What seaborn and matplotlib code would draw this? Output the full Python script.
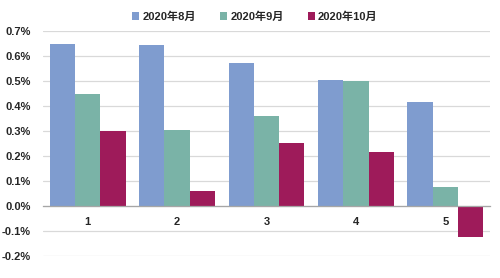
import matplotlib
matplotlib.use("Agg")
import matplotlib.pyplot as plt
import seaborn as sns
import pandas as pd
from matplotlib.ticker import FuncFormatter, FixedLocator

categories = ["1", "2", "3", "4", "5"]
series_names = ["2020年8月", "2020年9月", "2020年10月"]
aug = [0.650, 0.646, 0.572, 0.504, 0.418]
sep = [0.450, 0.306, 0.362, 0.500, 0.078]
oct_ = [0.300, 0.060, 0.254, 0.218, -0.122]
colors = ["#7F9CCF", "#7AB3A7", "#9E1B5A"]

rows = []
for name, vals in zip(series_names, [aug, sep, oct_]):
    for c, v in zip(categories, vals):
        rows.append({"cat": c, "series": name, "value": v})
df = pd.DataFrame(rows)

sns.set_style("white")
plt.rcParams["font.family"] = ["Liberation Sans", "Noto Sans CJK SC", "DejaVu Sans"]
plt.rcParams["font.weight"] = "bold"
plt.rcParams["axes.unicode_minus"] = False

fig = plt.figure(figsize=(5, 2.78), dpi=100)
ax = fig.add_axes([0.086, 0.079, 0.894, 0.809])

sns.barplot(data=df, x="cat", y="value", hue="series", order=categories,
            hue_order=series_names, palette=colors, width=0.85,
            saturation=1, ax=ax, linewidth=0, errorbar=None)

ax.set_ylim(-0.2, 0.7)
ax.set_xlim(-0.5, 4.5)
ax.set_yticks([-0.2, -0.1, 0.0, 0.1, 0.2, 0.3, 0.4, 0.5, 0.6, 0.7])
ax.yaxis.set_major_formatter(FuncFormatter(lambda v, p: f"{v:.1f}%"))
ax.tick_params(axis="y", length=0, labelsize=8, pad=9)
for lab in ax.get_yticklabels():
    lab.set_fontweight("bold")

ax.grid(axis="y", color="#D9D9D9", linewidth=0.9)
ax.set_axisbelow(True)
for s in ["left", "right", "top"]:
    ax.spines[s].set_visible(False)
ax.spines["bottom"].set_position(("data", 0))
ax.spines["bottom"].set_color("#A6A6A6")
ax.spines["bottom"].set_linewidth(0.9)

ax.xaxis.set_major_locator(FixedLocator([-0.5, 0.5, 1.5, 2.5, 3.5, 4.5]))
ax.xaxis.set_minor_locator(FixedLocator(list(range(len(categories)))))
ax.set_xticklabels([""] * 6)
ax.set_xticklabels(categories, minor=True)
ax.tick_params(axis="x", which="major", length=4, color="#A6A6A6", width=0.9, direction="out")
ax.tick_params(axis="x", which="minor", length=0, labelsize=8, pad=8)
for lab in ax.get_xticklabels(minor=True):
    lab.set_fontweight("bold")
ax.set_xlabel("")
ax.set_ylabel("")

handles, labels = ax.get_legend_handles_labels()
if ax.get_legend() is not None:
    ax.get_legend().remove()
leg = fig.legend(handles, labels, loc="center", bbox_to_anchor=(0.51, 0.94), ncol=3,
                 frameon=False, handlelength=0.6, handleheight=0.6, handletextpad=0.3,
                 columnspacing=2.2, prop={"size": 8, "weight": "bold"})

fig.savefig("out.png", dpi=100)
